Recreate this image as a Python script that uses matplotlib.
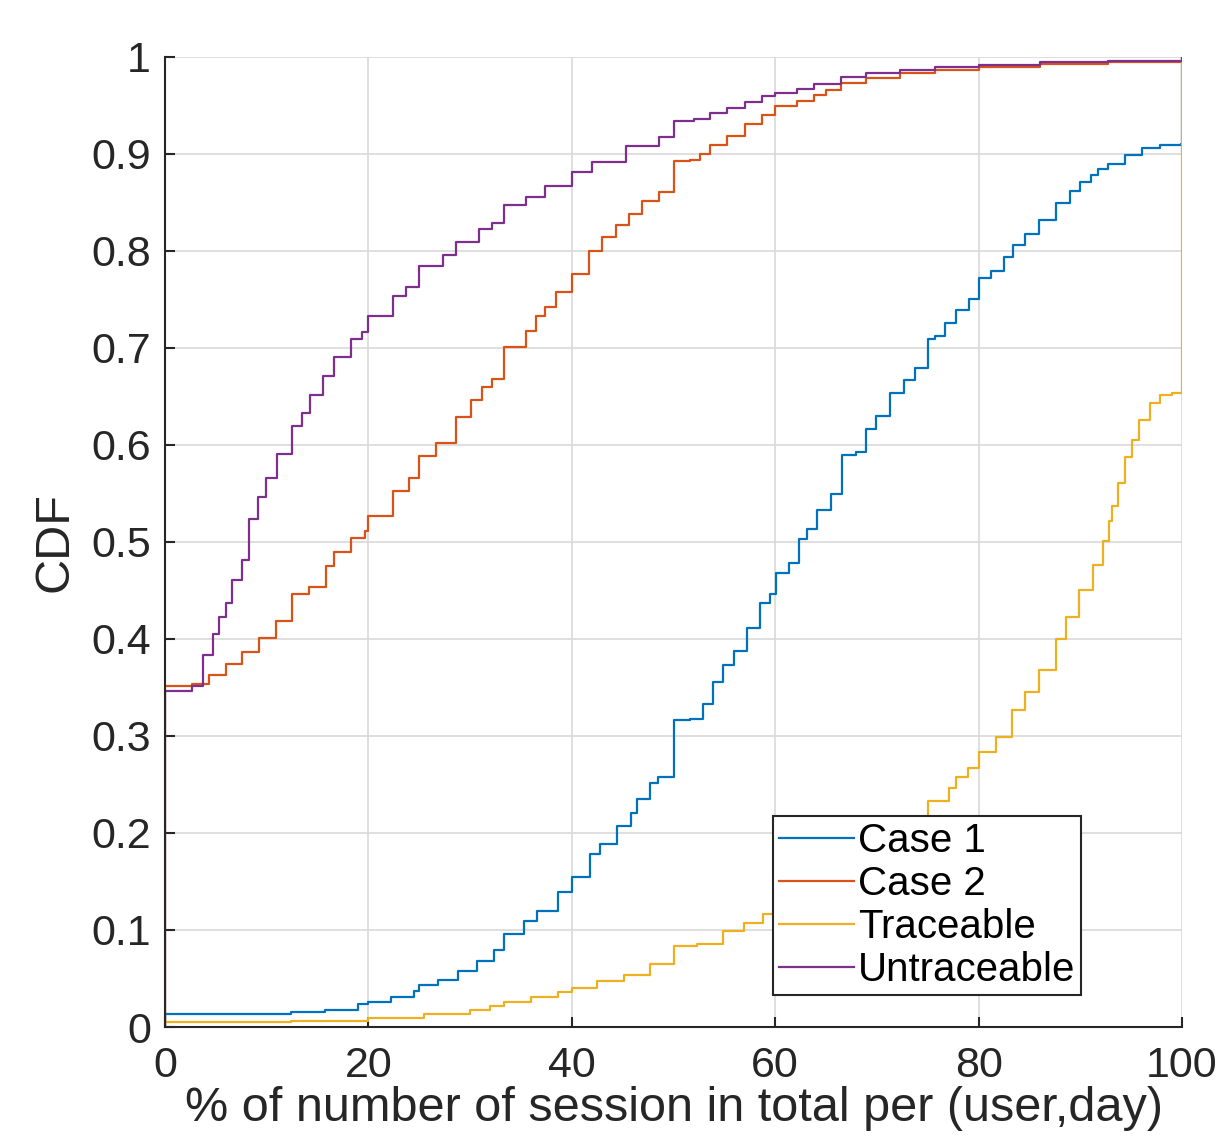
import matplotlib
matplotlib.use('Agg')
import matplotlib.pyplot as plt

plt.rcParams['font.family'] = ['Liberation Sans', 'DejaVu Sans']

# values (x = %, y = CDF), drawn as post-steps
case1_x = [0, 0, 9, 12.4, 15.7, 19, 20, 22.2, 24.5, 25, 26.8, 28.8, 30.7, 32.4, 33.3, 35.3,
           36.6, 38.6, 40, 41.8, 42.8, 44.4, 45.8, 46.4, 47.7, 48.5, 50, 51.6, 52.9, 53.9,
           54.9, 55.9, 57.2, 58.5, 59.5, 60.1, 61.4, 62.3, 63.1, 64.1, 65.5, 66.6, 67.9,
           68.9, 69.9, 71.3, 72.7, 73.7, 75, 75.7, 76.7, 77.8, 79.1, 80, 81.2, 82.5, 83.4,
           84.6, 85.9, 87.6, 89, 90, 91, 91.7, 92.7, 94.4, 96.1, 97.8, 99.9, 100]
case1_y = [0, 0.013, 0.0135, 0.015, 0.018, 0.024, 0.026, 0.031, 0.037, 0.043, 0.048, 0.058,
           0.068, 0.079, 0.096, 0.109, 0.12, 0.139, 0.155, 0.178, 0.189, 0.207, 0.221, 0.235,
           0.252, 0.258, 0.317, 0.318, 0.333, 0.356, 0.373, 0.388, 0.411, 0.437, 0.446, 0.468,
           0.478, 0.503, 0.513, 0.533, 0.549, 0.590, 0.593, 0.616, 0.630, 0.654, 0.667, 0.679,
           0.709, 0.712, 0.726, 0.739, 0.751, 0.772, 0.779, 0.794, 0.806, 0.817, 0.832, 0.849,
           0.862, 0.871, 0.878, 0.885, 0.890, 0.899, 0.906, 0.909, 0.910, 1.0]

case2_x = [0, 0, 2.7, 4.3, 6, 7.6, 9.2, 10.9, 12.5, 14.2, 15.8, 16.6, 18.3, 19.7, 20, 22.4,
           24, 25, 26.6, 28.6, 30.1, 31.2, 32.2, 33.3, 35.5, 36.5, 37.4, 38.4, 40, 41.7, 43,
           44.3, 45.6, 46.9, 48.6, 50, 51.6, 52.6, 53.6, 55.3, 57, 58.7, 60, 62.1, 63.8, 65,
           66.5, 68.9, 72.3, 75.7, 80, 86, 92.7, 100]
case2_y = [0, 0.352, 0.354, 0.363, 0.374, 0.387, 0.401, 0.419, 0.446, 0.454, 0.475, 0.490,
           0.504, 0.511, 0.527, 0.553, 0.566, 0.589, 0.602, 0.629, 0.646, 0.660, 0.668, 0.701,
           0.718, 0.733, 0.742, 0.758, 0.776, 0.800, 0.814, 0.827, 0.838, 0.852, 0.861, 0.893,
           0.894, 0.900, 0.909, 0.919, 0.931, 0.940, 0.949, 0.955, 0.961, 0.966, 0.973, 0.978,
           0.983, 0.987, 0.990, 0.993, 0.9945, 0.995]

trace_x = [0, 0, 12.4, 20, 25.5, 30, 32, 33.3, 36, 38.6, 40, 42.5, 45.1, 47.7, 50, 52.3,
           54.9, 56.9, 58.8, 60, 66.6, 70, 75, 77.1, 77.8, 79, 80, 81.7, 83.3, 84.6, 85.9,
           87.6, 88.6, 89.9, 91.2, 92.2, 92.8, 93.1, 93.7, 94.4, 95.1, 95.8, 96.8, 97.8, 99,
           100]
trace_y = [0, 0.005, 0.0064, 0.009, 0.0135, 0.018, 0.0216, 0.026, 0.031, 0.0365, 0.040,
           0.047, 0.054, 0.065, 0.083, 0.086, 0.099, 0.107, 0.117, 0.121, 0.16, 0.18, 0.233,
           0.246, 0.258, 0.267, 0.283, 0.299, 0.327, 0.345, 0.368, 0.400, 0.423, 0.450, 0.476,
           0.501, 0.522, 0.537, 0.561, 0.588, 0.605, 0.626, 0.643, 0.652, 0.654, 0.995]

untrace_x = [0, 0, 2.7, 3.7, 4.7, 5.3, 6.0, 6.6, 7.6, 8.3, 9.1, 9.9, 11.0, 12.5, 13.5, 14.3,
             15.5, 16.6, 18.3, 19.4, 20, 22.4, 23.7, 25, 27.3, 28.6, 30.9, 32.2, 33.3, 35.5,
             37.4, 40, 42, 45.3, 48.6, 50, 52, 53.6, 55.3, 57, 58.7, 60, 62.1, 63.8, 66.5,
             68.9, 72.3, 75.7, 80, 86, 92.7, 99.8, 100]
untrace_y = [0, 0.346, 0.352, 0.383, 0.405, 0.423, 0.437, 0.461, 0.481, 0.524, 0.546, 0.566,
             0.591, 0.620, 0.633, 0.652, 0.671, 0.691, 0.709, 0.716, 0.733, 0.754, 0.763,
             0.785, 0.796, 0.809, 0.823, 0.829, 0.847, 0.856, 0.867, 0.881, 0.892, 0.908,
             0.918, 0.934, 0.936, 0.942, 0.947, 0.954, 0.960, 0.963, 0.967, 0.972, 0.979,
             0.983, 0.987, 0.990, 0.992, 0.9945, 0.9955, 0.996, 1.0]

labels = ['Case 1', 'Case 2', 'Traceable', 'Untraceable']
colors = ['#0072BD', '#D95319', '#EDB120', '#7E2F8E']

x_ticks = [0, 20, 40, 60, 80, 100]
y_ticks = [0, 0.1, 0.2, 0.3, 0.4, 0.5, 0.6, 0.7, 0.8, 0.9, 1]
y_tick_labels = ['0', '0.1', '0.2', '0.3', '0.4', '0.5', '0.6', '0.7', '0.8', '0.9', '1']

fig = plt.figure(figsize=(12.21, 11.42), dpi=100)
ax = fig.add_axes([0.1351, 0.1007, 0.8330, 0.8494])

series = [(case1_x, case1_y), (case2_x, case2_y), (trace_x, trace_y), (untrace_x, untrace_y)]
for (xs, ys), lab, col in zip(series, labels, colors):
    ax.plot(xs, ys, drawstyle='steps-post', color=col, lw=1.6, label=lab)

ax.set_xlim(0, 100)
ax.set_ylim(0, 1)
ax.set_xticks(x_ticks)
ax.set_yticks(y_ticks)
ax.set_yticklabels(y_tick_labels)
ax.grid(True, color='#d9d9d9', lw=1.2)
ax.set_axisbelow(True)

for side in ['top', 'right']:
    ax.spines[side].set_visible(False)
for side in ['left', 'bottom']:
    ax.spines[side].set_color('#262626')
    ax.spines[side].set_linewidth(1.5)
ax.tick_params(direction='in', length=7, width=1.5, colors='#262626', labelsize=31)
ax.tick_params(axis='x', pad=14)
ax.tick_params(axis='y', pad=10)

ax.set_xlabel('% of number of session in total per (user,day)', fontsize=35, color='#262626', labelpad=0)
ax.set_ylabel('CDF', fontsize=35, color='#262626', labelpad=10)

leg = ax.legend(loc='lower right', bbox_to_anchor=(0.901, 0.033), fontsize=29,
                handlelength=1.85, handletextpad=0.1, labelspacing=0.12, borderpad=0.15,
                borderaxespad=0, fancybox=False, framealpha=1, edgecolor='#262626')
leg.get_frame().set_linewidth(1.5)
for t in leg.get_texts():
    t.set_color('black')

fig.savefig('out.png', dpi=100)
